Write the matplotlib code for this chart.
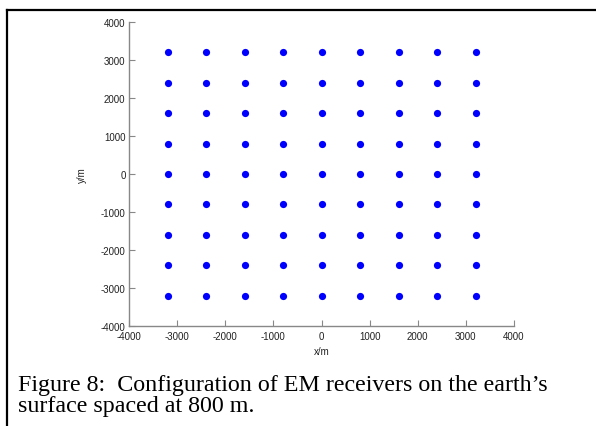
import matplotlib.pyplot as plt
import numpy as np
from matplotlib.lines import Line2D

# receiver positions (m), spaced at 800 m
xs = [-3200, -2400, -1600, -800, 0, 800, 1600, 2400, 3200]
ys = [-3200, -2400, -1600, -800, 0, 800, 1600, 2400, 3200]
ticks = [-4000, -3000, -2000, -1000, 0, 1000, 2000, 3000, 4000]

caption1 = "Figure 8:  Configuration of EM receivers on the earth\u2019s"
caption2 = "surface spaced at 800 m."

W, H = 596, 427
fig = plt.figure(figsize=(W / 100, H / 100), dpi=100)
ax = fig.add_axes([129 / W, 1 - 327 / H, (514 - 129) / W, (327 - 23) / H])

X, Y = np.meshgrid(xs, ys)
ax.plot(X.ravel(), Y.ravel(), 'o', color='#0000ff', markersize=5.2, markeredgewidth=0)

ax.set_xlim(-4000, 4000)
ax.set_ylim(-4000, 4000)
ax.set_xticks(ticks)
ax.set_yticks(ticks)
ax.set_xticklabels([str(t) for t in ticks])
ax.set_yticklabels([str(t) for t in ticks])

for s in ['top', 'right']:
    ax.spines[s].set_visible(False)
for s in ['left', 'bottom']:
    ax.spines[s].set_color('#888888')
    ax.spines[s].set_linewidth(1.0)
ax.tick_params(direction='in', length=4, width=0.8, color='#888888',
               labelsize=7, labelcolor='#222222')
ax.tick_params(axis='x', pad=3.5)
ax.tick_params(axis='y', pad=2.5)
for lbl in ax.get_xticklabels() + ax.get_yticklabels():
    lbl.set_family('Liberation Sans')

ax.set_xlabel('x/m', fontsize=7, family='Liberation Sans', color='#222222', labelpad=4)
ax.set_ylabel('y/m', fontsize=7, family='Liberation Sans', color='#222222', labelpad=10)

# document frame (top and left edges visible)
fig.add_artist(Line2D([7 / W, 7 / W], [0, 1 - 11 / H], transform=fig.transFigure,
                      color='black', linewidth=1.6))
fig.add_artist(Line2D([7 / W, 1], [1 - 11 / H, 1 - 11 / H], transform=fig.transFigure,
                      color='black', linewidth=1.6))

fig.text(18 / W, 1 - 391 / H, caption1, fontsize=17.3, family='Liberation Serif',
         va='baseline', ha='left')
fig.text(18 / W, 1 - 412 / H, caption2, fontsize=17.3, family='Liberation Serif',
         va='baseline', ha='left')

fig.savefig('out.png', dpi=100)
